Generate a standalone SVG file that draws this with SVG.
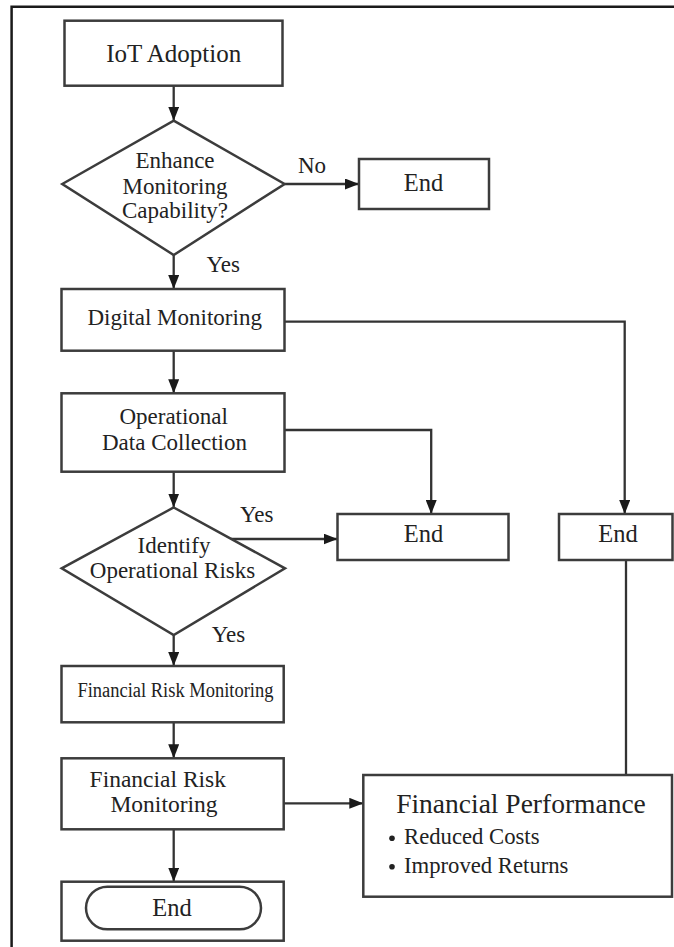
<svg xmlns="http://www.w3.org/2000/svg" width="674" height="947" viewBox="0 0 674 947">
  <style>
    .box { fill: #ffffff; stroke: #3c3c3c; stroke-width: 2.5; }
    .edge { fill: none; stroke: #333333; stroke-width: 2.3; }
    .arr { marker-end: url(#head); }
    text { font-family: "Liberation Serif", "Times New Roman", serif; fill: #222222; }
    .c { text-anchor: middle; }
    .t23 { font-size: 23px; }
    .t24 { font-size: 24.5px; }
  </style>
  <defs>
    <marker id="head" viewBox="0 0 14 11" refX="14" refY="5.5" markerWidth="14" markerHeight="11" markerUnits="userSpaceOnUse" orient="auto">
      <path d="M0,0 L14,5.5 L0,11 Z" fill="#1a1a1a"/>
    </marker>
  </defs>

  <rect width="674" height="947" fill="#ffffff"/>
  <!-- page frame -->
  <path d="M11.6,947 V6.7 H674" fill="none" stroke="#1a1a1a" stroke-width="2.5"/>

  <g id="connectors">
    <path class="edge arr" d="M173.7,85.7 V120.7"/>
    <path class="edge arr" d="M284.6,184 H359"/>
    <path class="edge arr" d="M173.7,255 V289"/>
    <path class="edge arr" d="M284.6,321.7 H624.7 V514"/>
    <path class="edge arr" d="M173.7,350.7 V393.3"/>
    <path class="edge arr" d="M284.6,430 H431.2 V514"/>
    <path class="edge arr" d="M173.7,471.7 V507.5"/>
    <path class="edge arr" d="M231,539 H337.5"/>
    <path class="edge arr" d="M173.7,635 V666"/>
    <path class="edge arr" d="M173.7,722.3 V758.3"/>
    <path class="edge arr" d="M283.7,803.3 H363.3"/>
    <path class="edge" d="M626,560 V775"/>
    <path class="edge arr" d="M173.7,829.3 V881.7"/>
  </g>

  <g id="iot-adoption">
    <rect class="box" x="64.5" y="20.7" width="218" height="65"/>
    <text class="c" x="173.7" y="61.7" font-size="25">IoT Adoption</text>
  </g>

  <g id="enhance-decision">
    <polygon class="box" points="173.7,120.7 284.6,184 173.7,255 62.3,184"/>
    <text class="c t23" x="175" y="168.3">Enhance</text>
    <text class="c t23" x="175" y="194">Monitoring</text>
    <text class="c t23" x="175" y="218">Capability?</text>
  </g>
  <text class="t23" x="298" y="173.3" font-size="24">No</text>
  <text class="t23" x="206.5" y="271.7">Yes</text>

  <g id="end-1">
    <rect class="box" x="359" y="159" width="130" height="50"/>
    <text class="c t24" x="423.5" y="190.7">End</text>
  </g>

  <g id="digital-monitoring">
    <rect class="box" x="61.5" y="289" width="223" height="61.7"/>
    <text class="c t23" x="174.7" y="325">Digital Monitoring</text>
  </g>

  <g id="data-collection">
    <rect class="box" x="61.5" y="393.3" width="223" height="78.4"/>
    <text class="c t23" x="173.7" y="424">Operational</text>
    <text class="c t23" x="174.5" y="450">Data Collection</text>
  </g>

  <g id="risk-decision">
    <polygon class="box" points="173.7,507.5 285,568.3 173.7,635 61.7,568.3"/>
    <text class="c t23" x="174" y="553">Identify</text>
    <text class="c t23" x="172.5" y="578">Operational Risks</text>
  </g>
  <text class="t23" x="240" y="521.7">Yes</text>
  <text class="t23" x="211.7" y="641.7">Yes</text>

  <g id="end-2">
    <rect class="box" x="337.5" y="514" width="171" height="46"/>
    <text class="c t24" x="423.5" y="541.7">End</text>
  </g>

  <g id="end-3">
    <rect class="box" x="559" y="514" width="113.5" height="46"/>
    <text class="c t24" x="618" y="541.7">End</text>
  </g>

  <g id="financial-risk-monitoring-1">
    <rect class="box" x="61.5" y="666" width="222.2" height="56.3"/>
    <text x="77.4" y="696.7" font-size="20" textLength="196" lengthAdjust="spacingAndGlyphs">Financial Risk Monitoring</text>
  </g>

  <g id="financial-risk-monitoring-2">
    <rect class="box" x="61.5" y="758.3" width="222.2" height="71"/>
    <text class="c" x="157.8" y="786.7" font-size="23.5">Financial Risk</text>
    <text class="c" x="164" y="811.7" font-size="23.5">Monitoring</text>
  </g>

  <g id="financial-performance">
    <rect class="box" x="363.3" y="775" width="308.7" height="121.7"/>
    <text class="c" x="521" y="812.7" font-size="27.5">Financial Performance</text>
    <circle cx="392" cy="838.3" r="2.8" fill="#222222"/>
    <text x="404" y="844" font-size="22.7">Reduced Costs</text>
    <circle cx="392" cy="866.7" r="2.8" fill="#222222"/>
    <text x="404" y="872.7" font-size="22.7">Improved Returns</text>
  </g>

  <g id="end-final">
    <rect class="box" x="61.5" y="881.7" width="222.2" height="59"/>
    <rect class="box" x="86" y="886.7" width="175" height="42.6" rx="21.3" ry="21.3"/>
    <text class="c t24" x="172" y="916">End</text>
  </g>
</svg>
